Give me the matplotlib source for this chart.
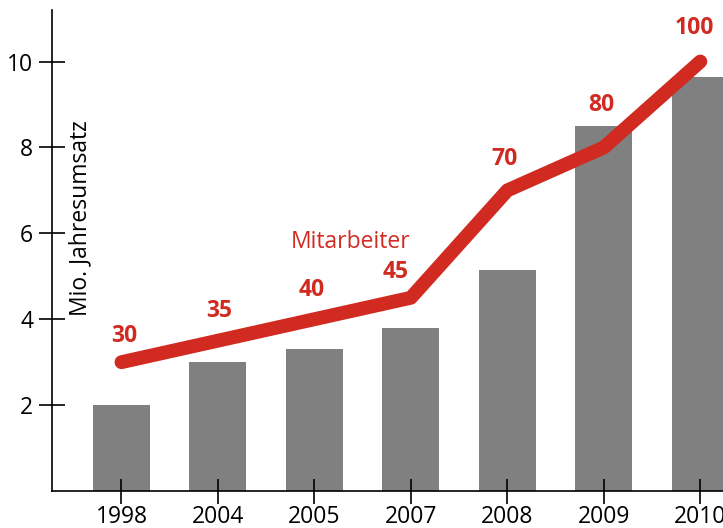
import matplotlib
matplotlib.use("Agg")
import matplotlib.pyplot as plt
import matplotlib.transforms as mtrans

years = ["1998", "2004", "2005", "2007", "2008", "2009", "2010"]
umsatz = [2.0, 3.0, 3.3, 3.8, 5.15, 8.5, 9.65]
mitarbeiter = [30, 35, 40, 45, 70, 80, 100]
yticks = [2, 4, 6, 8, 10]

plt.rcParams['font.family'] = ['Open Sans', 'DejaVu Sans']
RED = '#d12a21'
GRAY = '#808080'

fig = plt.figure(figsize=(7.23, 5.28), dpi=100)
ax = fig.add_axes([52/723, 1-491/528, 1-52/723 + 0.002, (491-10)/528])

x = list(range(len(years)))
ax.bar(x, umsatz, width=0.59, color=GRAY, zorder=1)
line_vals = [m/10 for m in mitarbeiter]
ax.plot(x, line_vals, color=RED, lw=10, solid_capstyle='round', solid_joinstyle='round', zorder=3)

offsets = [(2, 0.6), (1, 0.68), (-2, 0.68), (-11, 0.6), (-2, 0.72), (-2, 0.98), (-4, 0.78)]
for xi, v, m, (dx, dy) in zip(x, line_vals, mitarbeiter, offsets):
    ax.annotate(str(m), (xi, v + dy), xytext=(dx, 0), textcoords='offset points',
                ha='center', va='center', color=RED, fontsize=16.5, fontweight='bold')

ax.text(2.38, 5.8, "Mitarbeiter", color=RED, fontsize=16.5, ha='center', va='center')
blend = mtrans.blended_transform_factory(fig.transFigure, ax.transData)
ax.text(80/723, 6.36, "Mio. Jahresumsatz", rotation=90, fontsize=16.5, ha='center', va='center',
        transform=blend)

ax.set_xlim(-0.72, 6.25)
ax.set_ylim(0, 11.2)
ax.set_xticks(x)
ax.set_xticklabels(years, fontsize=16.5)
ax.set_yticks(yticks)
ax.set_yticklabels([str(t) for t in yticks], fontsize=16.5)
ax.tick_params(axis='both', direction='inout', length=18, width=1.2, color='black', pad=1)
ax.tick_params(axis='y', length=19, pad=4)
for s in ['top', 'right']:
    ax.spines[s].set_visible(False)
for s in ['left', 'bottom']:
    ax.spines[s].set_linewidth(1.2)

fig.savefig("out.png", dpi=100)
